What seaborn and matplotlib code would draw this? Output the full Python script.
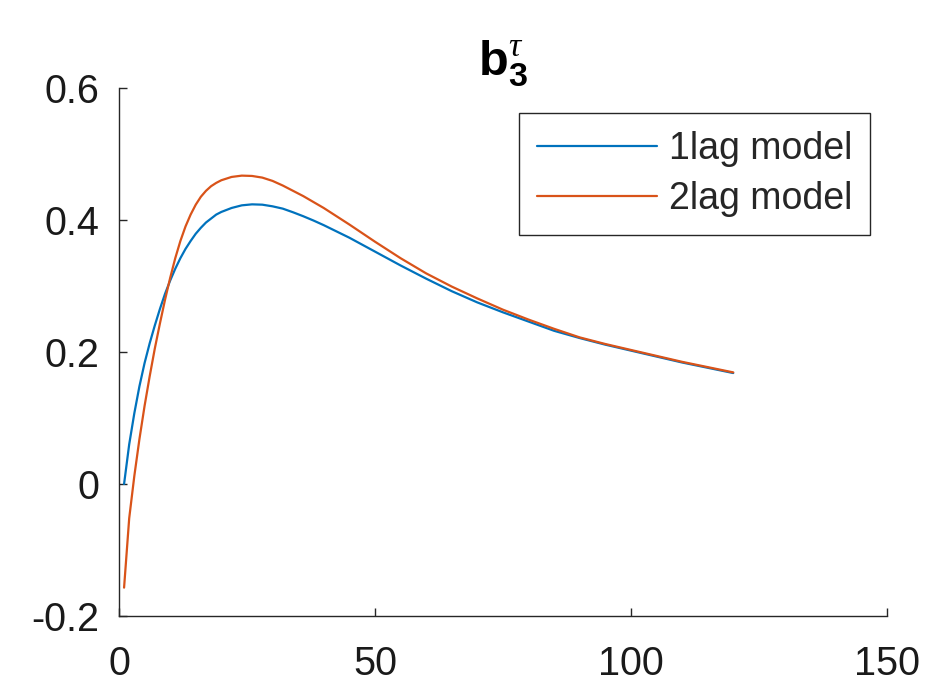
import matplotlib
matplotlib.use("Agg")
import matplotlib.pyplot as plt
import numpy as np
import pandas as pd
import seaborn as sns

# Maturity (months) and loadings of the third factor for both models
maturity = [1, 2, 3, 4, 5, 6, 7, 8, 9, 10, 11, 12, 13, 14, 15, 16, 17, 18, 19, 20,
            22, 24, 26, 28, 30, 32, 34, 36, 38, 40, 45, 50, 55, 60, 65, 70, 75, 80,
            85, 90, 95, 100, 105, 110, 115, 120]
lag1_model = [0.000, 0.060, 0.107, 0.148, 0.183, 0.213, 0.240, 0.265, 0.288, 0.308,
              0.326, 0.342, 0.356, 0.368, 0.379, 0.388, 0.396, 0.402, 0.408, 0.412,
              0.418, 0.422, 0.4235, 0.423, 0.4205, 0.417, 0.4115, 0.4055, 0.399, 0.392,
              0.373, 0.352, 0.331, 0.311, 0.292, 0.275, 0.260, 0.246, 0.232, 0.221,
              0.211, 0.202, 0.193, 0.184, 0.176, 0.168]
lag2_model = [-0.157, -0.052, 0.012, 0.068, 0.118, 0.163, 0.205, 0.243, 0.279, 0.312,
              0.342, 0.368, 0.390, 0.408, 0.423, 0.435, 0.444, 0.451, 0.456, 0.460,
              0.465, 0.467, 0.4665, 0.464, 0.459, 0.452, 0.444, 0.436, 0.427, 0.418,
              0.393, 0.367, 0.342, 0.319, 0.299, 0.281, 0.264, 0.249, 0.235, 0.222,
              0.212, 0.203, 0.194, 0.185, 0.177, 0.169]
series_names = ["1lag model", "2lag model"]
series_colors = ["#0072BD", "#D95319"]

x_ticks = [0, 50, 100, 150]
y_ticks = [-0.2, 0, 0.2, 0.4, 0.6]
y_tick_labels = ["-0.2", "0", "0.2", "0.4", "0.6"]

df = pd.DataFrame({
    "maturity": maturity * 2,
    "loading": lag1_model + lag2_model,
    "model": [series_names[0]] * len(maturity) + [series_names[1]] * len(maturity),
})

sns.set_theme(style="ticks")
plt.rcParams["font.family"] = ["Liberation Sans", "DejaVu Sans"]
plt.rcParams["mathtext.fontset"] = "custom"
plt.rcParams["mathtext.rm"] = "Liberation Sans"
plt.rcParams["mathtext.bf"] = "Liberation Sans:bold"
plt.rcParams["mathtext.it"] = "Liberation Serif:italic"
plt.rcParams["axes.unicode_minus"] = False

fig = plt.figure(figsize=(9.33, 6.86), dpi=100)
ax = fig.add_axes([0.1275, 0.102, 0.823, 0.770])

sns.lineplot(data=df, x="maturity", y="loading", hue="model",
             palette=series_colors, linewidth=1.6, ax=ax)

ax.set_xlim(0, 150)
ax.set_ylim(-0.2, 0.6)
ax.set_xticks(x_ticks)
ax.set_xticklabels([str(t) for t in x_ticks])
ax.set_yticks(y_ticks)
ax.set_yticklabels(y_tick_labels)
ax.set_xlabel("")
ax.set_ylabel("")

sns.despine(ax=ax)
for side in ("left", "bottom"):
    ax.spines[side].set_color("#262626")
    ax.spines[side].set_linewidth(1.0)
ax.tick_params(axis="both", direction="in", length=6, width=1.0,
               color="#262626", labelcolor="#1a1a1a", labelsize=28.5)
ax.tick_params(axis="x", pad=21)
ax.tick_params(axis="y", pad=14)

ax.set_title(r"$\mathbf{b}_{\mathbf{3}}^{\tau}$", fontsize=35, pad=8,
             color="#000000")

handles, labels = ax.get_legend_handles_labels()
leg = ax.legend(handles, labels, loc="upper right",
                bbox_to_anchor=(0.978, 0.953), borderaxespad=0,
                fontsize=27, frameon=True, fancybox=False, shadow=False,
                handlelength=3.2, handletextpad=0.3, labelspacing=0.38,
                borderpad=0.48)
leg.get_frame().set_edgecolor("#262626")
leg.get_frame().set_linewidth(1.0)
leg.get_frame().set_alpha(1.0)

fig.savefig("out.png", dpi=100, facecolor="white")
